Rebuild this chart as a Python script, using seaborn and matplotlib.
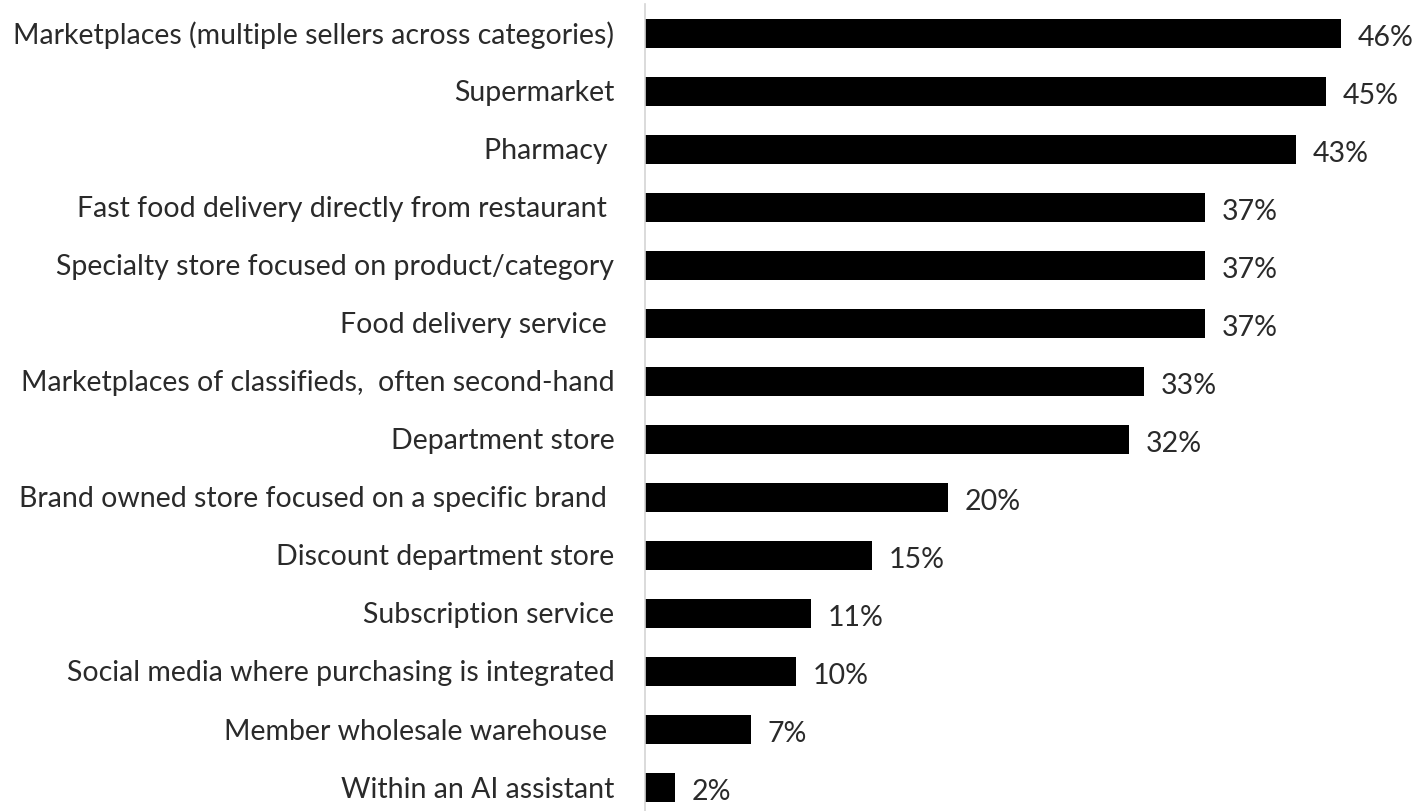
import matplotlib
matplotlib.use("Agg")
import matplotlib.pyplot as plt
import seaborn as sns
import pandas as pd

channels = [
    "Marketplaces (multiple sellers across categories)",
    "Supermarket",
    "Pharmacy ",
    "Fast food delivery directly from restaurant ",
    "Specialty store focused on product/category",
    "Food delivery service ",
    "Marketplaces of classifieds,  often second-hand",
    "Department store",
    "Brand owned store focused on a specific brand ",
    "Discount department store",
    "Subscription service",
    "Social media where purchasing is integrated",
    "Member wholesale warehouse ",
    "Within an AI assistant",
]
shares = [46, 45, 43, 37, 37, 37, 33, 32, 20, 15, 11, 10, 7, 2]

df = pd.DataFrame({"channel": channels, "share": shares})

sns.set_theme(style="white")
plt.rcParams["font.family"] = ["Lato", "DejaVu Sans"]

W, H = 1417, 811
fig = plt.figure(figsize=(W / 100, H / 100), dpi=100)
ax = fig.add_axes([645 / W, 1 - 816 / H, 756.5 / W, 812 / H])

sns.barplot(data=df, y="channel", x="share", color="black", width=0.5,
            saturation=1, edgecolor="none", ax=ax, orient="h")

ax.set_xlim(0, 50)
ax.set_xlabel("")
ax.set_ylabel("")
ax.set_xticks([])
ax.tick_params(axis="y", length=0, pad=22, labelsize=20.5, labelcolor="#2a2a2a")

for s in ("top", "right", "bottom"):
    ax.spines[s].set_visible(False)
ax.spines["left"].set_color("#d4d4d4")
ax.spines["left"].set_linewidth(1.2)

for i, v in enumerate(shares):
    ax.annotate(f"{v}%", xy=(v, i), xytext=(12, -3.5), textcoords="offset points",
                va="center", ha="left", fontsize=20.5, color="#2a2a2a",
                annotation_clip=False)

fig.savefig("out.png", dpi=100)
